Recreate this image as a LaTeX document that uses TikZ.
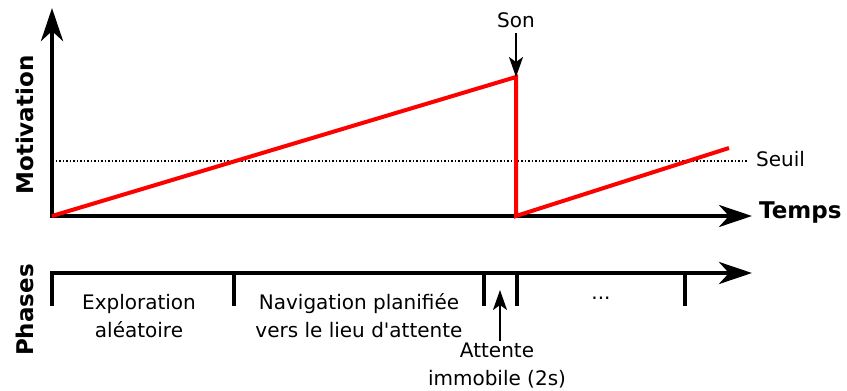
\documentclass[tikz,border=0pt]{standalone}
\usepackage{fontspec}
\setmainfont{DejaVu Sans}
\usetikzlibrary{arrows.meta, positioning}

\begin{document}
\begin{tikzpicture}[x=1pt, y=-1pt,
    axe/.style={line width=4.5pt, -{Stealth[length=33pt, width=22pt, inset=10pt]}},
    fleche/.style={line width=2pt, -{Stealth[length=20pt, width=14pt, inset=5pt]}},
    courbe/.style={line width=4pt, red, line join=miter},
    graduation/.style={line width=4pt},
    texte/.style={font=\fontsize{20}{25}\selectfont, align=center, inner sep=0pt},
    titre/.style={font=\fontsize{23}{28}\selectfont\bfseries, inner sep=0pt}]
    \useasboundingbox (0,0) rectangle (847,391);

    % 1. Axes du graphe
    \coordinate (O) at (52,216);
    \coordinate (Ymax) at (52,8);
    \coordinate (Xmax) at (752,216);
    \draw[axe] ([yshift=2pt]O) -- (Ymax);
    \draw[axe] ([xshift=-2pt]O) -- (Xmax);
    \node[titre, rotate=90] (motiv) at (25,125) {Motivation};
    \node[titre, anchor=west] (temps) at (759,213) {Temps};

    % 2. Seuil
    \coordinate (S0) at (52,161);
    \coordinate (S1) at (747,161);
    \draw[line width=1.5pt, dash pattern=on 1.5pt off 2pt] (S0) -- (S1);
    \node[texte, anchor=west] (seuil) at (756,159) {Seuil};

    % 3. Courbe de motivation
    \coordinate (haut) at (516,77);
    \coordinate (bas) at (516,216);
    \coordinate (fin) at (729,148);
    \draw[courbe] (O) -- (haut) -- (bas) -- (fin);

    % 4. Son
    \node[texte] (son) at (516,20) {Son};
    \coordinate (sonh) at (516,33);
    \draw[fleche] (sonh) -- (haut);

    % 5. Phases
    \coordinate (P0) at (50,273);
    \coordinate (P1) at (752,273);
    \draw[axe] (P0) -- (P1);
    \foreach \x in {52,234,484,517,685} {
        \draw[graduation] (\x,272) -- (\x,306);
    }
    \node[titre, rotate=90] (phases) at (25,310) {Phases};

    \node[texte] (explo) at (139,316) {Exploration\\[3pt]aléatoire};
    \node[texte] (navig) at (359,316) {Navigation planifiée\\[3pt]vers le lieu d\textquotesingle attente};
    \node[texte] (suite) at (601,298) {...};
    \node[texte] (attente) at (497,366) {Attente\\[3pt]immobile (2s)};
    \coordinate (attb) at (500,341);
    \coordinate (atth) at (500,290);
    \draw[fleche] (attb) -- (atth);
\end{tikzpicture}
\end{document}
